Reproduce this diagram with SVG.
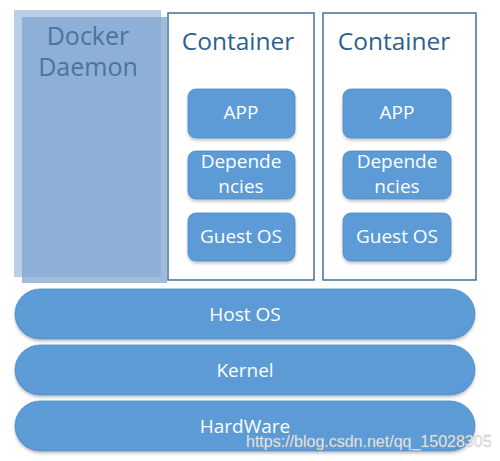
<svg xmlns="http://www.w3.org/2000/svg" width="500" height="461" viewBox="0 0 500 461">
<defs>
<filter id="sh" x="-10%" y="-20%" width="120%" height="150%">
<feGaussianBlur in="SourceAlpha" stdDeviation="1.5"/>
<feOffset dx="0" dy="2" result="b"/>
<feComponentTransfer><feFuncA type="linear" slope="0.25"/></feComponentTransfer>
<feMerge><feMergeNode/><feMergeNode in="SourceGraphic"/></feMerge>
</filter>
</defs>
<style>
.box{fill:#5b9bd5;stroke:#4f8cc4;stroke-width:0.8;filter:url(#sh)}
.cont{fill:#ffffff;stroke:#41719c;stroke-width:1.5}
.wt{font-family:"Open Sans","Noto Sans",sans-serif;font-size:19px;fill:#ffffff;text-anchor:middle}
.ct{font-family:"Open Sans","Noto Sans",sans-serif;font-size:24.5px;fill:#2f5f8f;text-anchor:middle}
.dt{font-family:"Open Sans","Noto Sans",sans-serif;font-size:25px;fill:#4a74a0;text-anchor:middle}
.wm{font-family:"Liberation Sans",Arial,sans-serif;font-size:16px;fill:#f2f2f2;stroke:#b0b0b0;stroke-width:0.3}
</style>
<rect width="500" height="461" fill="#ffffff"/>
<g id="docker-daemon">
<rect x="14" y="10" width="147" height="267" fill="#a9c3e0" fill-opacity="0.8"/>
<rect x="22" y="17" width="145" height="266" fill="#7fa5d0" fill-opacity="0.75"/>
<text class="dt" x="88" y="45">Docker</text>
<text class="dt" x="88" y="76">Daemon</text>
</g>
<g id="container1">
<rect class="cont" x="168" y="13" width="146" height="267"/>
<text class="ct" x="238" y="50">Container</text>
<g id="app1"><rect class="box" x="188" y="89" width="107" height="49" rx="8"/><text class="wt" x="241" y="119">APP</text></g>
<g id="dep1"><rect class="box" x="188" y="151" width="107" height="48" rx="8"/><text class="wt" x="241" y="168">Depende</text><text class="wt" x="241" y="193">ncies</text></g>
<g id="guest1"><rect class="box" x="188" y="213" width="107" height="48" rx="8"/><text class="wt" x="241" y="243">Guest OS</text></g>
</g>
<g id="container2">
<rect class="cont" x="323" y="13" width="153" height="267"/>
<text class="ct" x="394" y="50">Container</text>
<g id="app2"><rect class="box" x="343" y="89" width="108" height="49" rx="8"/><text class="wt" x="397" y="119">APP</text></g>
<g id="dep2"><rect class="box" x="343" y="151" width="108" height="48" rx="8"/><text class="wt" x="397" y="168">Depende</text><text class="wt" x="397" y="193">ncies</text></g>
<g id="guest2"><rect class="box" x="343" y="213" width="108" height="48" rx="8"/><text class="wt" x="397" y="243">Guest OS</text></g>
</g>
<g id="hostos"><rect class="box" x="15" y="289" width="460" height="50" rx="25"/><text class="wt" x="245" y="321">Host OS</text></g>
<g id="kernel"><rect class="box" x="15" y="345" width="460" height="50" rx="25"/><text class="wt" x="245" y="377">Kernel</text></g>
<g id="hardware"><rect class="box" x="15" y="401" width="460" height="50" rx="25"/><text class="wt" x="245" y="433">HardWare</text></g>
<g id="connectors"/>
<text class="wm" x="246" y="447">https://blog.csdn.net/qq_15028305</text>
</svg>
